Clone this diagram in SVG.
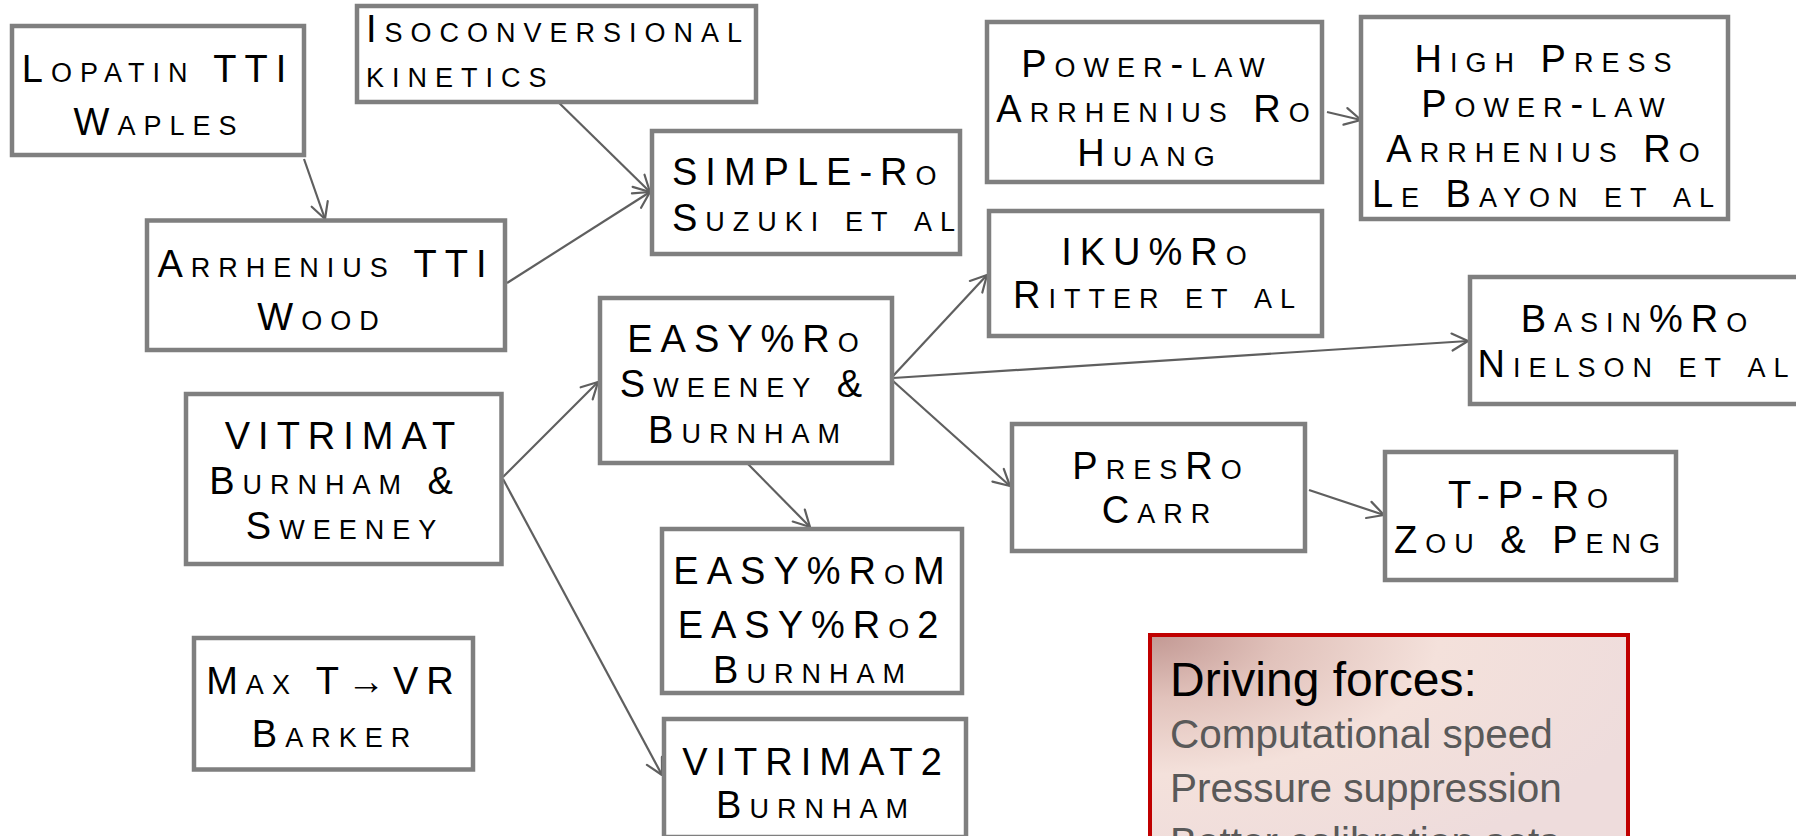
<svg xmlns="http://www.w3.org/2000/svg" width="1796" height="836" viewBox="0 0 1796 836">
<style>
.box{fill:#fff;stroke:#7f7f7f;stroke-width:4.5}
.t{font-family:"Liberation Sans",Arial,sans-serif;font-size:38px;font-variant:small-caps;letter-spacing:8px;fill:#000;text-anchor:middle}
.ts{text-anchor:start}
.c{fill:none;stroke:#5f5f5f;stroke-width:2.2;marker-end:url(#arr)}
.df{font-family:"Liberation Sans",Arial,sans-serif}
</style>
<defs>
<marker id="arr" markerUnits="userSpaceOnUse" viewBox="-20 -12 24 24" refX="0" refY="0" markerWidth="24" markerHeight="24" orient="auto" overflow="visible">
<path d="M-16,-8.5 L0,0 L-16,8.5" fill="none" stroke="#5f5f5f" stroke-width="2.2" stroke-linecap="round" stroke-linejoin="round"/>
</marker>
<radialGradient id="dg" cx="0" cy="0" r="1.1" gradientUnits="objectBoundingBox">
<stop offset="0" stop-color="#c29893"/>
<stop offset="0.25" stop-color="#e1c2bb"/>
<stop offset="0.55" stop-color="#f4e1db"/>
<stop offset="1" stop-color="#eedcdc"/>
</radialGradient>
</defs>
<g id="connectors">
<line class="c" x1="304" y1="159" x2="325" y2="219"/>
<line class="c" x1="551" y1="95" x2="650" y2="192"/>
<line class="c" x1="507" y1="283" x2="650" y2="192"/>
<line class="c" x1="503" y1="477" x2="598" y2="382"/>
<line class="c" x1="503" y1="479" x2="662" y2="775"/>
<line class="c" x1="893" y1="376" x2="987" y2="275"/>
<line class="c" x1="893" y1="378" x2="1468" y2="341"/>
<line class="c" x1="893" y1="381" x2="1010" y2="486"/>
<line class="c" x1="747" y1="463" x2="810" y2="527"/>
<line class="c" x1="1327" y1="112" x2="1361" y2="120"/>
<line class="c" x1="1309" y1="490" x2="1384" y2="515"/>
</g>
<g id="n-lopatin">
<rect class="box" x="12" y="26" width="292" height="129"/>
<text class="t" x="158" y="82">Lopatin TTI</text>
<text class="t" x="159" y="135">Waples</text>
</g>
<g id="n-iso">
<rect class="box" x="357" y="6" width="399" height="96"/>
<text class="t ts" x="366" y="42">Isoconversional</text>
<text class="t ts" x="366" y="87">kinetics</text>
</g>
<g id="n-arrhenius">
<rect class="box" x="147" y="220.5" width="358" height="129.5"/>
<text class="t" x="326" y="277">Arrhenius TTI</text>
<text class="t" x="322" y="330">Wood</text>
</g>
<g id="n-simple">
<rect class="box" x="652" y="131" width="308" height="123"/>
<text class="t ts" x="672" y="185">SIMPLE-Ro</text>
<text class="t ts" x="672" y="231">Suzuki et al</text>
</g>
<g id="n-powerlaw">
<rect class="box" x="987" y="22" width="335" height="160"/>
<text class="t" x="1147" y="77">Power-law</text>
<text class="t" x="1157" y="122">Arrhenius Ro</text>
<text class="t" x="1150" y="166">Huang</text>
</g>
<g id="n-highpress">
<rect class="box" x="1361" y="17" width="367" height="202"/>
<text class="t" x="1547" y="72">High Press</text>
<text class="t" x="1547" y="117">Power-law</text>
<text class="t" x="1547" y="162">Arrhenius Ro</text>
<text class="t" x="1547" y="207">Le Bayon et al</text>
</g>
<g id="n-iku">
<rect class="box" x="989" y="211" width="333" height="125"/>
<text class="t" x="1158" y="265">IKU%Ro</text>
<text class="t" x="1158" y="308">Ritter et al</text>
</g>
<g id="n-basin">
<rect class="box" x="1470" y="277" width="360" height="127"/>
<text class="t" x="1638" y="332">Basin%Ro</text>
<text class="t" x="1637" y="377">Nielson et al</text>
</g>
<g id="n-easy">
<rect class="box" x="600" y="298" width="292" height="165"/>
<text class="t" x="747" y="352">EASY%Ro</text>
<text class="t" x="745" y="397">Sweeney &amp;</text>
<text class="t" x="748" y="443">Burnham</text>
</g>
<g id="n-vitrimat">
<rect class="box" x="186" y="394" width="315.5" height="170"/>
<text class="t" x="344" y="449">VITRIMAT</text>
<text class="t" x="335" y="494">Burnham &amp;</text>
<text class="t" x="345" y="539">Sweeney</text>
</g>
<g id="n-maxt">
<rect class="box" x="194" y="638" width="279" height="131.5"/>
<text class="t" x="334" y="694">Max T→VR</text>
<text class="t" x="335" y="747">Barker</text>
</g>
<g id="n-easym">
<rect class="box" x="662" y="529" width="300" height="164"/>
<text class="t" x="813" y="584">EASY%RoM</text>
<text class="t" x="812" y="638">EASY%Ro2</text>
<text class="t" x="813" y="683">Burnham</text>
</g>
<g id="n-vitrimat2">
<rect class="box" x="664" y="719" width="302" height="118"/>
<text class="t" x="816" y="775">VITRIMAT2</text>
<text class="t" x="816" y="818">Burnham</text>
</g>
<g id="n-presro">
<rect class="box" x="1012" y="424" width="293" height="127"/>
<text class="t" x="1161" y="479">PresRo</text>
<text class="t" x="1160" y="523">Carr</text>
</g>
<g id="n-tpro">
<rect class="box" x="1385" y="452" width="291" height="128"/>
<text class="t" x="1532" y="508">T-P-Ro</text>
<text class="t" x="1531" y="553">Zou &amp; Peng</text>
</g>
<g id="n-driving">
<rect x="1150" y="635" width="478" height="230" fill="url(#dg)" stroke="#c00000" stroke-width="4"/>
<text class="df" x="1170" y="696" font-size="48" fill="#000">Driving forces:</text>
<text class="df" x="1170" y="748" font-size="40.5" fill="#595959">Computational speed</text>
<text class="df" x="1170" y="802" font-size="40.5" fill="#595959">Pressure suppression</text>
<text class="df" x="1170" y="856" font-size="40.5" fill="#595959">Better calibration sets</text>
</g>
</svg>
